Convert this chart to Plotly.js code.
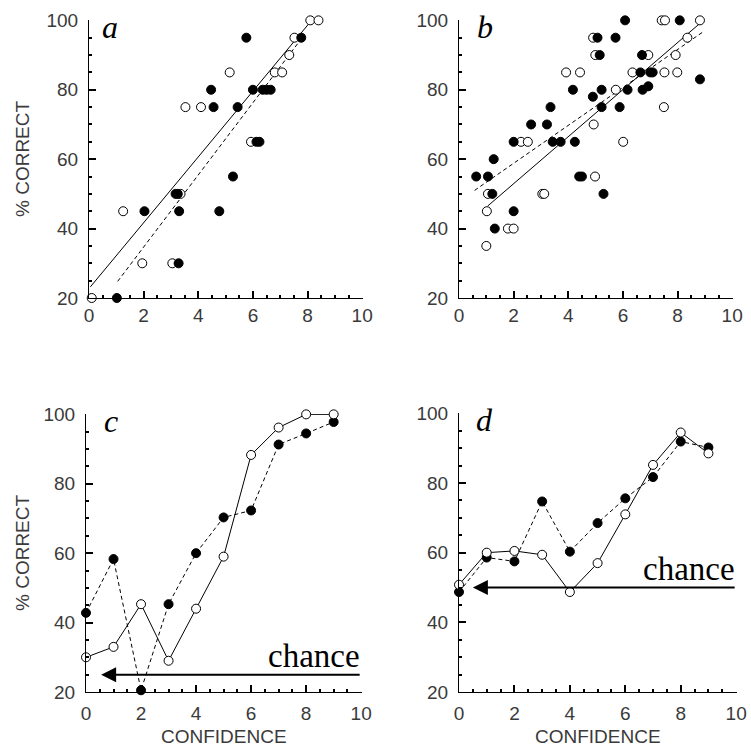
<!DOCTYPE html>
<html>
<head>
<meta charset="utf-8">
<script src="https://cdn.plot.ly/plotly-3.0.1.min.js"></script>
<style>html,body{margin:0;padding:0;background:#fff;}#chart{width:751px;height:749px;}</style>
</head>
<body>
<div id="chart"></div>
<script>
// ---------- DATA ----------
// Panel a (scatter)
const aOpenX = [0.1, 1.25, 1.95, 3.05, 3.35, 3.53, 4.1, 5.15, 5.93, 6.8, 7.07, 7.33, 7.52, 8.1, 8.4];
const aOpenY = [20, 45, 30, 30, 50, 75, 75, 85, 65, 85, 85, 90, 95, 100, 100];
const aFillX = [1.02, 2.03, 3.28, 3.17, 3.25, 3.3, 4.47, 4.56, 4.77, 5.27, 5.44, 5.76, 6.0, 6.13, 6.24, 6.36, 6.5, 6.65, 7.77];
const aFillY = [20, 45, 30, 50, 50, 45, 80, 75, 45, 55, 75, 95, 80, 65, 65, 80, 80, 80, 95];
const aFitOpenX = [0.05, 8.15], aFitOpenY = [23.2, 100];
const aFitFillX = [1.05, 7.9], aFitFillY = [24.8, 96];

// Panel b (scatter)
const bOpenX = [1.02, 1.0, 1.06, 1.79, 2.0, 2.27, 2.52, 3.05, 3.12, 3.92, 4.43, 4.91, 4.99, 4.93, 4.98, 5.74, 6.01, 6.35, 6.93, 7.42, 7.54, 7.52, 7.5, 7.93, 7.99, 8.36, 8.82];
const bOpenY = [45, 35, 50, 40, 40, 65, 65, 50, 50, 85, 85, 95, 90, 70, 55, 80, 65, 85, 90, 100, 100, 85, 75, 90, 85, 95, 100];
const bFillX = [0.63, 1.06, 1.27, 1.22, 1.31, 2.0, 2.0, 2.64, 3.22, 3.35, 3.43, 3.72, 4.17, 4.24, 4.4, 4.5, 4.9, 5.07, 5.15, 5.22, 5.22, 5.29, 5.73, 5.88, 6.08, 6.17, 6.7, 6.72, 6.93, 6.64, 7.0, 7.09, 8.08, 8.82];
const bFillY = [55, 55, 60, 50, 40, 65, 45, 70, 70, 75, 65, 65, 80, 65, 55, 55, 78, 95, 90, 80, 75, 50, 95, 75, 100, 80, 90, 80, 81, 85, 85, 85, 100, 83];
const bFitOpenX = [1.05, 8.8], bFitOpenY = [46.5, 99];
const bFitFillX = [0.57, 8.9], bFitFillY = [51, 96.5];

// Panels c, d (line plots vs confidence)
const confidence = [0, 1, 2, 3, 4, 5, 6, 7, 8, 9];
const cOpen = [30, 33, 45.3, 29, 44, 59, 88.3, 96.2, 100, 100];
const cFill = [42.8, 58.3, 20.5, 45.3, 60, 70.3, 72.3, 91.3, 94.5, 97.8];
const dOpen = [50.8, 60, 60.5, 59.4, 48.7, 57, 71, 85.2, 94.5, 88.5];
const dFill = [48.7, 58.6, 57.5, 74.7, 60.3, 68.5, 75.6, 81.7, 91.9, 90.2];

const chanceC = 25, chanceD = 50;
const chanceTipC = 0.55, chanceTipD = 0.5, chanceTail = 10;
const panelLetters = ['a', 'b', 'c', 'd'];
const yTitle = '% CORRECT', xTitle = 'CONFIDENCE', chanceLabel = 'chance';

// ---------- STYLE ----------
const W = 751, H = 749;
const px = v => v / W, py = v => 1 - v / H;
const tickFont = {family: 'Liberation Sans, Arial, sans-serif', size: 19, color: '#3a3a3a'};
const titleFont = {family: 'Liberation Sans, Arial, sans-serif', size: 19, color: '#3a3a3a'};
const serif = 'Liberation Serif, Times New Roman, serif';
const MS = 9;
const TW = 2;

function openMk() { return {symbol: 'circle', size: MS, color: '#fff', line: {color: '#000', width: 1}}; }
function fillMk() { return {symbol: 'circle', size: MS, color: '#000', line: {color: '#000', width: 1}}; }

const traces = [];
function addScatter(xs, ys, open, xa, ya, mode, dash) {
  traces.push({x: xs, y: ys, xaxis: xa, yaxis: ya, mode: mode, type: 'scatter',
    marker: open ? openMk() : fillMk(), line: {color: '#000', width: 1, dash: dash || 'solid'},
    cliponaxis: false, showlegend: false, hoverinfo: 'skip'});
}
function addLine(xs, ys, xa, ya, dash) {
  traces.push({x: xs, y: ys, xaxis: xa, yaxis: ya, mode: 'lines', type: 'scatter',
    line: {color: '#000', width: 1, dash: dash}, cliponaxis: false, showlegend: false, hoverinfo: 'skip'});
}
// a
addLine(aFitOpenX, aFitOpenY, 'x', 'y', 'solid');
addLine(aFitFillX, aFitFillY, 'x', 'y', '4px,3px');
addScatter(aOpenX, aOpenY, true, 'x', 'y', 'markers');
addScatter(aFillX, aFillY, false, 'x', 'y', 'markers');
// b
addLine(bFitOpenX, bFitOpenY, 'x2', 'y2', 'solid');
addLine(bFitFillX, bFitFillY, 'x2', 'y2', '4px,3px');
addScatter(bOpenX, bOpenY, true, 'x2', 'y2', 'markers');
addScatter(bFillX, bFillY, false, 'x2', 'y2', 'markers');
// c
addScatter(confidence, cFill, false, 'x3', 'y3', 'lines+markers', '4px,3px');
addScatter(confidence, cOpen, true, 'x3', 'y3', 'lines+markers', 'solid');
// d
addScatter(confidence, dFill, false, 'x4', 'y4', 'lines+markers', '4px,3px');
addScatter(confidence, dOpen, true, 'x4', 'y4', 'lines+markers', 'solid');

function xAx(d0, d1, anchor, standoff) {
  return {domain: [px(d0), px(d1)], anchor: anchor, range: [0, 10.03], dtick: 2, tick0: 0,
    ticks: 'inside', ticklen: 7, tickwidth: TW, tickcolor: '#000',
    minor: {dtick: 0.5, ticks: 'inside', ticklen: 3, tickcolor: '#000', tickwidth: TW},
    showline: true, linecolor: '#000', linewidth: 1, showgrid: false, zeroline: false,
    tickfont: tickFont, ticklabelstandoff: standoff, fixedrange: true};
}
function yAx(d0, d1, anchor) {
  return {domain: [py(d1), py(d0)], anchor: anchor, range: [20, 100.1], dtick: 20, tick0: 0,
    ticks: 'inside', ticklen: 7, tickwidth: TW, tickcolor: '#000',
    minor: {dtick: 5, ticks: 'inside', ticklen: 3, tickcolor: '#000', tickwidth: TW},
    showline: true, linecolor: '#000', linewidth: 1, showgrid: false, zeroline: false,
    tickfont: tickFont, ticklabelstandoff: 6, fixedrange: true};
}

const ann = [];
// panel letters
const letterPos = [[100, 27], [475, 27], [102, 421], [474, 420]];
letterPos.forEach((p, i) => ann.push({text: panelLetters[i], xref: 'paper', yref: 'paper',
  x: px(p[0]), y: py(p[1]), xanchor: 'left', yanchor: 'middle', showarrow: false,
  font: {family: serif, size: 32, color: '#000', style: 'italic'}}));
// axis titles
[[22, 159], [22, 553]].forEach(p => ann.push({text: yTitle, xref: 'paper', yref: 'paper',
  x: px(p[0]), y: py(p[1]), xanchor: 'center', yanchor: 'middle', textangle: -90, showarrow: false, font: titleFont}));
[[224, 736], [598, 736]].forEach(p => ann.push({text: xTitle, xref: 'paper', yref: 'paper',
  x: px(p[0]), y: py(p[1]), xanchor: 'center', yanchor: 'middle', showarrow: false, font: titleFont}));
// chance arrows
[['x3', 'y3', chanceTipC, chanceC], ['x4', 'y4', chanceTipD, chanceD]].forEach(a => {
  ann.push({text: '', xref: a[0], yref: a[1], x: a[2], y: a[3], axref: a[0], ayref: a[1],
    ax: chanceTail, ay: a[3], showarrow: true, arrowhead: 2, arrowsize: 1.5, arrowwidth: 2, arrowcolor: '#000', standoff: 0});
  ann.push({text: chanceLabel, xref: a[0], yref: a[1], x: chanceTail, y: a[3], xanchor: 'right', yanchor: 'bottom',
    showarrow: false, borderpad: 0, font: {family: serif, size: 33, color: '#000'}});
});

const layout = {
  width: W, height: H, margin: {l: 0, r: 0, t: 0, b: 0}, paper_bgcolor: '#fff', plot_bgcolor: '#fff',
  showlegend: false,
  xaxis: xAx(89, 363, 'y', 0), yaxis: yAx(20, 298, 'x'),
  xaxis2: xAx(459, 733, 'y2', 0), yaxis2: yAx(20, 298, 'x2'),
  xaxis3: xAx(86, 362, 'y3', 4), yaxis3: yAx(414, 692, 'x3'),
  xaxis4: xAx(459, 737, 'y4', 4), yaxis4: yAx(413, 692, 'x4'),
  annotations: ann
};
Plotly.newPlot('chart', traces, layout, {staticPlot: true, displayModeBar: false});
</script>
</body>
</html>
